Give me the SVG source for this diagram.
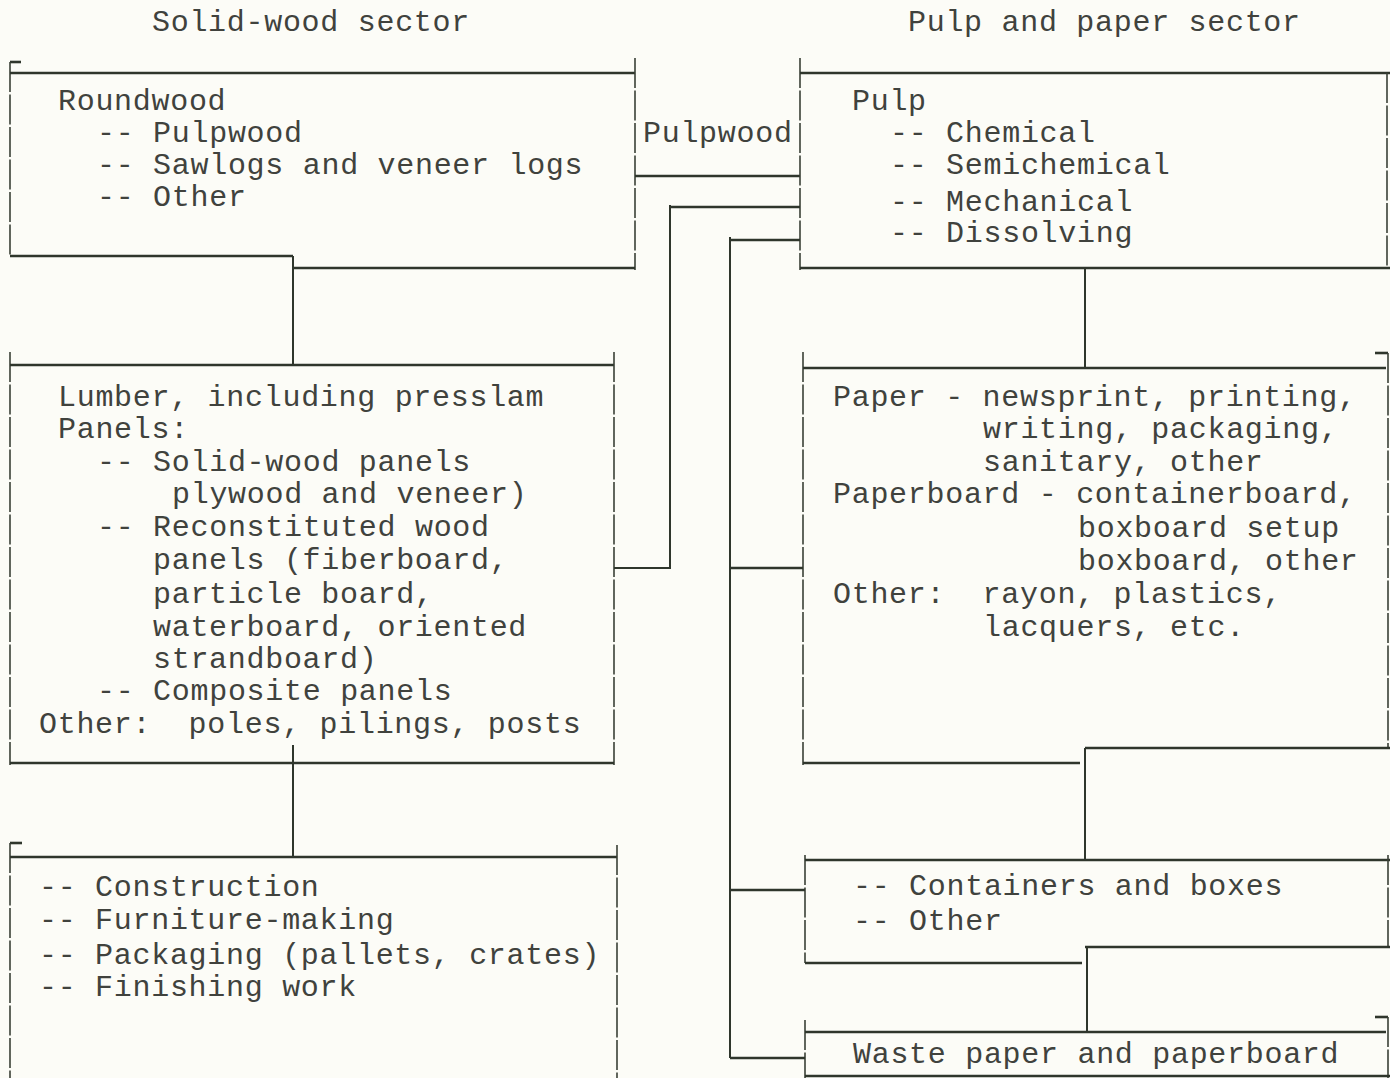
<svg xmlns="http://www.w3.org/2000/svg" width="1390" height="1078" viewBox="0 0 1390 1078">
<style>
.t{font-family:"Liberation Mono","DejaVu Sans Mono",monospace;font-size:30px;letter-spacing:0.7px;fill:#40423d;white-space:pre}
.h{stroke:#2f362c;stroke-width:2.6;fill:none}
.v{stroke:#3a4036;stroke-width:1.6;fill:none;stroke-dasharray:30 2.5}
.c{stroke:#2f362c;stroke-width:2;fill:none}
</style>
<rect x="0" y="0" width="1390" height="1078" fill="#fcfcf7"/>

<g id="title-solid"><text class="t" x="152" y="31">Solid-wood sector</text></g>
<g id="title-pulp"><text class="t" x="908" y="31">Pulp and paper sector</text></g>

<g id="roundwood">
  <path class="h" d="M10,62 H21"/>
  <path class="v" d="M10,62 V255"/>
  <path class="h" d="M10,73 H635"/>
  <path class="v" d="M635,58 V270"/>
  <path class="h" d="M10,256 H293"/>
  <path class="h" d="M293,268 H635"/>
  <text class="t" x="58" y="110">Roundwood</text>
  <text class="t" x="97" y="142">-- Pulpwood</text>
  <text class="t" x="97" y="174">-- Sawlogs and veneer logs</text>
  <text class="t" x="97" y="206">-- Other</text>
</g>

<g id="pulpwood-label">
  <text class="t" x="643" y="142">Pulpwood</text>
  <path class="h" d="M635,176 H800"/>
</g>

<g id="pulp">
  <path class="v" d="M800,58 V270"/>
  <path class="h" d="M800,73 H1390"/>
  <path class="v" d="M1387,73 V268"/>
  <path class="h" d="M800,268 H1390"/>
  <text class="t" x="852" y="110">Pulp</text>
  <text class="t" x="890" y="142">-- Chemical</text>
  <text class="t" x="890" y="174">-- Semichemical</text>
  <text class="t" x="890" y="211">-- Mechanical</text>
  <text class="t" x="890" y="242">-- Dissolving</text>
</g>

<g id="lumber">
  <path class="v" d="M10,352 V765"/>
  <path class="h" d="M10,365 H614"/>
  <path class="v" d="M614,352 V765"/>
  <path class="h" d="M10,763 H614"/>
  <text class="t" x="58" y="406">Lumber, including presslam</text>
  <text class="t" x="58" y="438">Panels:</text>
  <text class="t" x="97" y="471">-- Solid-wood panels</text>
  <text class="t" x="172" y="503">plywood and veneer)</text>
  <text class="t" x="97" y="536">-- Reconstituted wood</text>
  <text class="t" x="153" y="569">panels (fiberboard,</text>
  <text class="t" x="153" y="603">particle board,</text>
  <text class="t" x="153" y="636">waterboard, oriented</text>
  <text class="t" x="153" y="668">strandboard)</text>
  <text class="t" x="97" y="700">-- Composite panels</text>
  <text class="t" x="39" y="733">Other:  poles, pilings, posts</text>
</g>

<g id="end-uses">
  <path class="h" d="M10,843 H22"/>
  <path class="v" d="M10,843 V1078"/>
  <path class="h" d="M10,857 H617"/>
  <path class="v" d="M617,845 V1078"/>
  <text class="t" x="39" y="896">-- Construction</text>
  <text class="t" x="39" y="929">-- Furniture-making</text>
  <text class="t" x="39" y="964">-- Packaging (pallets, crates)</text>
  <text class="t" x="39" y="996">-- Finishing work</text>
</g>

<g id="paper">
  <path class="v" d="M803,352 V765"/>
  <path class="h" d="M803,368 H1386"/>
  <path class="h" d="M1375,353 H1388"/>
  <path class="v" d="M1388,353 V748"/>
  <path class="h" d="M803,763 H1080"/>
  <path class="h" d="M1085,748 H1390"/>
  <text class="t" x="833" y="406">Paper - newsprint, printing,</text>
  <text class="t" x="983" y="438">writing, packaging,</text>
  <text class="t" x="983" y="471">sanitary, other</text>
  <text class="t" x="833" y="503">Paperboard - containerboard,</text>
  <text class="t" x="1078" y="537">boxboard setup</text>
  <text class="t" x="1078" y="570">boxboard, other</text>
  <text class="t" x="833" y="603">Other:  rayon, plastics,</text>
  <text class="t" x="983" y="636">lacquers, etc.</text>
</g>

<g id="containers">
  <path class="v" d="M805,855 V963"/>
  <path class="h" d="M805,860 H1390"/>
  <path class="v" d="M1388,855 V947"/>
  <path class="h" d="M805,963 H1082"/>
  <path class="h" d="M1085,947 H1390"/>
  <text class="t" x="853" y="895">-- Containers and boxes</text>
  <text class="t" x="853" y="930">-- Other</text>
</g>

<g id="waste-paper">
  <path class="v" d="M805,1020 V1078"/>
  <path class="h" d="M805,1032 H1386"/>
  <path class="h" d="M1375,1017 H1388"/>
  <path class="v" d="M1388,1017 V1078"/>
  <path class="h" d="M805,1076 H1390"/>
  <text class="t" x="853" y="1063">Waste paper and paperboard</text>
</g>

<g id="connectors">
  <path class="c" d="M293,256 V365"/>
  <path class="c" d="M293,745 V857"/>
  <path class="c" d="M1085,268 V368"/>
  <path class="c" d="M1085,748 V860"/>
  <path class="c" d="M1087,947 V1032"/>
  <path class="c" d="M614,568 H670 V205"/>
  <path class="h" d="M670,207 H800"/>
  <path class="c" d="M730,237 V1058"/>
  <path class="h" d="M730,240 H800"/>
  <path class="h" d="M730,568 H803"/>
  <path class="h" d="M730,890 H805"/>
  <path class="h" d="M730,1058 H805"/>
</g>
</svg>
